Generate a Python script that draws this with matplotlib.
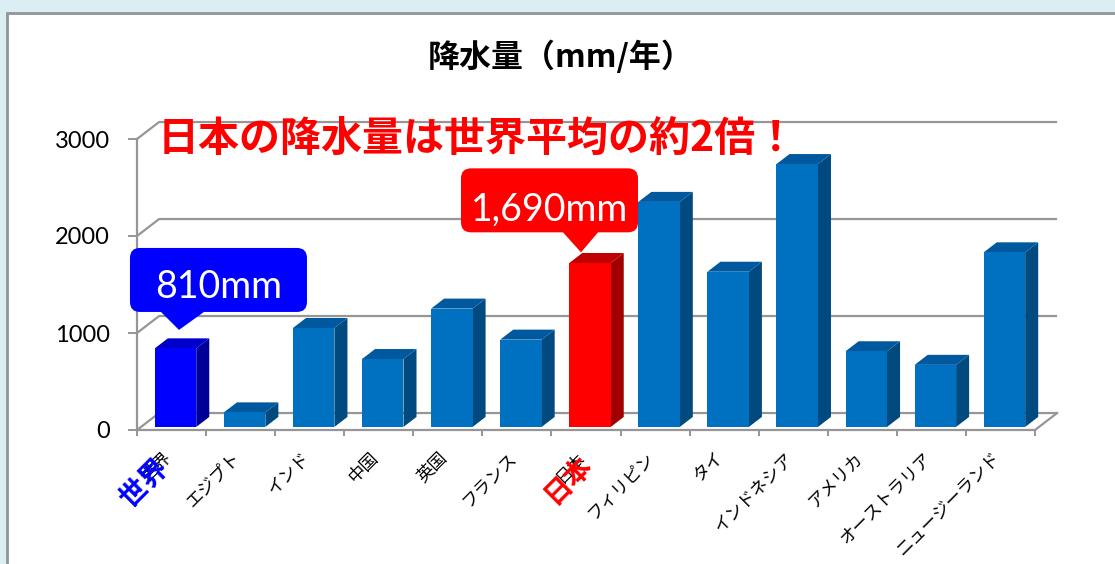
import matplotlib
matplotlib.use('Agg')
import matplotlib.pyplot as plt
from matplotlib.patches import Polygon, Rectangle, PathPatch
from matplotlib.path import Path
from matplotlib.transforms import ScaledTranslation
import numpy as np

# ---------------- data ----------------
categories = ['世界', 'エジプト', 'インド', '中国', '英国', 'フランス', '日本',
              'フィリピン', 'タイ', 'インドネシア', 'アメリカ', 'オーストラリア', 'ニュージーランド']
values = [810, 150, 1020, 700, 1220, 900, 1690, 2320, 1600, 2710, 780, 640, 1800]
yticks = [0, 1000, 2000, 3000]
ytick_labels = ['0', '1000', '2000', '3000']
title = '降水量（mm/年）'
headline = '日本の降水量は世界平均の約2倍！'
callout_index = [0, 6]
callout_text = ['810mm', '1,690mm']

# ---------------- style ----------------
W, H = 1115, 564
CJK = ['Noto Sans CJK JP', 'DejaVu Sans']
NUM = ['Lato', 'DejaVu Sans']
GRID = '#969696'
DX, DY = 0.32, 175.0          # depth of the 3D box in data units
F1, F2 = 0.18, 0.77           # bar depth range (fraction of box depth)
BW = 0.6                      # bar width
face = {'blue': ('#0070C0', '#00599E', '#004A80'),
        'world': ('#0000FF', '#0000CC', '#000099'),
        'japan': ('#FF0000', '#C00000', '#A00000')}
kinds = ['world'] + ['blue'] * 5 + ['japan'] + ['blue'] * 6

fig = plt.figure(figsize=(W / 100, H / 100), dpi=100, facecolor='#DBEEF4')
# white chart area with grey frame
fig.patches.append(Rectangle((7 / W, -0.05), 1.2, 1.05 - 13 / H, transform=fig.transFigure,
                             facecolor='white', edgecolor='#8F9696', lw=2, zorder=-5))

ax = fig.add_axes([137 / W, (H - 430) / H, (1035 - 137) / W, (430 - 139) / H])
ax.set_zorder(1)
ax.set_facecolor('none')
ax.set_xlim(-0.5, len(categories) - 0.5)
ax.set_ylim(0, 3000)
for s in ['top', 'right']:
    ax.spines[s].set_visible(False)
for s in ['left', 'bottom']:
    ax.spines[s].set_color(GRID)
    ax.spines[s].set_linewidth(1.6)
ax.set_yticks(yticks)
ax.set_yticklabels(ytick_labels, fontfamily=NUM, fontsize=17)
ax.set_xticks(np.arange(-0.5, len(categories)))
ax.set_xticklabels([])
ax.tick_params(axis='y', direction='out', length=6.5, width=1.4, color=GRID, pad=13)
ax.tick_params(axis='x', direction='out', length=4.5, width=1.4, color=GRID)

n = len(categories)
xl, xr = -0.5, n - 0.5
# back wall gridlines + left wall diagonals
for v in yticks:
    ax.plot([xl, xl + DX, xr + DX], [v, v + DY, v + DY], color=GRID, lw=1.6,
            clip_on=False, zorder=1, solid_capstyle='butt')
ax.plot([xr, xr + DX], [0, DY], color=GRID, lw=1.6, clip_on=False, zorder=1)

# bars
ox, oy = F1 * DX, F1 * DY
bx, by = (F2 - F1) * DX, (F2 - F1) * DY
for i, v in enumerate(values):
    fc, tc, sc = face[kinds[i]]
    x0 = i - BW / 2 + ox
    x1 = x0 + BW
    y0 = oy
    y1 = v + oy
    ax.add_patch(Polygon([(x1, y0), (x1 + bx, y0 + by), (x1 + bx, y1 + by), (x1, y1)],
                         closed=True, facecolor=sc, edgecolor='none', zorder=3, clip_on=False))
    ax.add_patch(Polygon([(x0, y1), (x1, y1), (x1 + bx, y1 + by), (x0 + bx, y1 + by)],
                         closed=True, facecolor=tc, edgecolor='none', zorder=3, clip_on=False))
    ax.add_patch(Rectangle((x0, y0), BW, v, facecolor=fc, edgecolor='none', zorder=3,
                           clip_on=False))

# x labels
for i, name in enumerate(categories):
    ax.annotate(name, xy=(i, 0), xytext=(-3, -25), textcoords='offset pixels',
                rotation=45, ha='right', va='center', rotation_mode='anchor',
                fontsize=12.5, fontfamily=CJK, color='black', annotation_clip=False)
big_label = {0: ('#0000FF', (-8, -33)), 6: ('#FF0000', (2, -30))}
for i, (col, off) in big_label.items():
    ax.annotate(categories[i], xy=(i, 0), xytext=off, textcoords='offset pixels',
                rotation=45, ha='right', va='center', rotation_mode='anchor',
                fontsize=20, fontweight='bold', fontfamily=CJK, color=col,
                annotation_clip=False, zorder=5)

# callouts (pixel offsets relative to a point above the bar)
def callout_path(L, R, B, T, pl, pr, r):
    verts = [(0, 0), (pr, B), (R - r, B), (R, B), (R, B + r), (R, T - r), (R, T), (R - r, T),
             (L + r, T), (L, T), (L, T - r), (L, B + r), (L, B), (L + r, B), (pl, B), (0, 0)]
    codes = [Path.MOVETO, Path.LINETO, Path.LINETO, Path.CURVE3, Path.CURVE3, Path.LINETO,
             Path.CURVE3, Path.CURVE3, Path.LINETO, Path.CURVE3, Path.CURVE3, Path.LINETO,
             Path.CURVE3, Path.CURVE3, Path.LINETO, Path.CLOSEPOLY]
    return Path(verts, codes)

callout_style = {0: dict(tip=(0.05, 190), box=(-49, 128, 18, 82, -18, 25), color='#0000FF'),
                 6: dict(tip=(-0.13, 110), box=(-120, 57, 20, 84, -18, 17), color='#FF0000')}
for i, txt in zip(callout_index, callout_text):
    st = callout_style[i]
    L, R, B, T, pl, pr = st['box']
    tx = i + ox + st['tip'][0]
    ty = values[i] + oy + st['tip'][1]
    tr = ScaledTranslation(tx, ty, ax.transData)
    p = PathPatch(callout_path(L, R, B, T, pl, pr, 10), transform=tr,
                  facecolor=st['color'], edgecolor='none', zorder=6, clip_on=False)
    ax.add_patch(p)
    ax.text((L + R) / 2, 32, txt, transform=tr, ha='center', va='baseline',
            fontsize=27, fontfamily=NUM, color='white', zorder=7, clip_on=False)

fig.text(561 / W, 1 - 57 / H, title, ha='center', va='center', fontsize=23,
         fontweight='bold', fontfamily=CJK)
ax.text(158 / W, 1 - 139 / H, headline, transform=fig.transFigure, ha='left', va='center',
        fontsize=29.5, fontweight='bold', fontfamily=CJK, color='#FF0000', zorder=8)

fig.savefig('out.png', dpi=100, facecolor=fig.get_facecolor())
